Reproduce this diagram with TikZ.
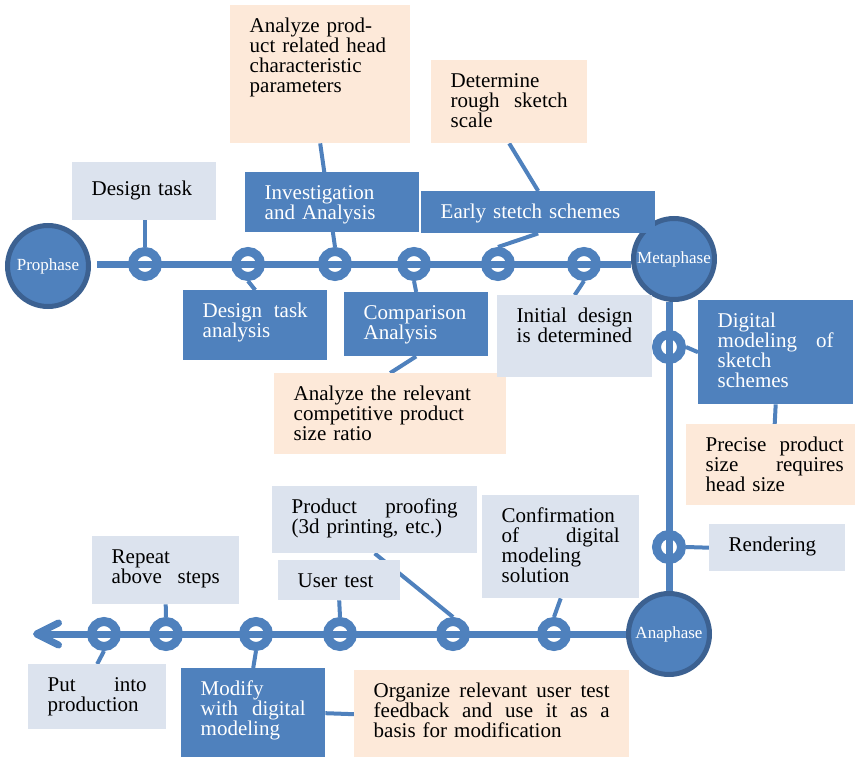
\documentclass[tikz,border=0pt]{standalone}
\usepackage{fontspec}
\setmainfont{Liberation Serif}
\usetikzlibrary{arrows.meta,backgrounds}
\definecolor{darkBox}{HTML}{4F81BD}
\definecolor{lightBox}{HTML}{DCE3EE}
\definecolor{peachBox}{HTML}{FDE9D9}
\definecolor{rimBlue}{HTML}{3C6191}
% stretch a line out to the full text width
\newcommand{\jf}{\hskip 0pt plus 1fill\relax}
\begin{document}
\begin{tikzpicture}[x=1pt,y=-1pt,
  box/.style={anchor=north west, align=left, inner xsep=19.5pt, inner ysep=13pt,
    text height=14pt, font=\fontsize{21}{20}\selectfont},
  darkbox/.style={box, fill=darkBox, text=white},
  lightbox/.style={box, fill=lightBox, text=black},
  peachbox/.style={box, fill=peachBox, text=black},
  ring/.style={circle, draw=darkBox, line width=9pt, minimum size=25pt, inner sep=0pt},
  phase/.style={circle, fill=darkBox, draw=rimBlue, line width=5pt, minimum size=81pt,
    inner sep=0pt, text=white, font=\fontsize{17}{17}\selectfont},
  axis/.style={draw=darkBox, line width=7pt},
  link/.style={draw=darkBox, line width=4pt}]
  \useasboundingbox (0,0) rectangle (855,757);

  % the three phases
  \node[phase] (pro) at (48,266) {Prophase};
  \node[phase] (met) at (674,259) {Metaphase};
  \node[phase] (ana) at (669,634) {Anaphase};

  % steps on the time line
  \foreach \n/\x in {r1/145,r2/248,r3/335,r4/414,r5/498,r6/584}
    \node[ring] (\n) at (\x,264) {};
  \node[ring] (r7) at (669,347) {};
  \node[ring] (r8) at (669,547) {};
  \foreach \n/\x in {r9/554,r10/453,r11/340,r12/256,r13/166,r14/104}
    \node[ring] (\n) at (\x,634) {};

  % boxes along the first stretch
  \node[lightbox, text width=105pt, text height=20pt, text depth=12pt] (dt) at (72,162) {Design task};
  \node[darkbox, text width=135pt, text depth=20pt] (inv) at (245,172) {Investigation\\and Analysis};
  \node[darkbox, text width=195pt, text depth=2pt] (ess) at (421,191) {Early stetch schemes};
  \node[peachbox, text width=141pt, text depth=98pt] (aph) at (230,5) {Analyze prod-\\uct related head\\characteristic\\parameters};
  \node[peachbox, text width=117pt, text depth=43pt] (drs) at (431,60) {Determine\\rough\jf sketch\\scale};
  \node[darkbox, text width=105pt, text depth=30pt] (dta) at (183,290) {Design\jf task\\analysis};
  \node[darkbox, text width=105pt, text depth=24pt] (cmp) at (344,292) {Comparison\\Analysis};
  \node[peachbox, text width=193pt, text depth=41pt] (arl) at (274,373) {Analyze the relevant\\competitive product\\size ratio};
  \node[lightbox, text width=116pt, text depth=42pt] (idd) at (497,295) {Initial\jf design\\is determined};

  % boxes along the second stretch
  \node[darkbox, text width=116pt, text depth=64pt] (dms) at (698,300) {Digital\\modeling\jf of\\sketch\\schemes};
  \node[peachbox, text width=138pt, text depth=41pt] (pps) at (686,424) {Precise\jf product\\size\jf requires\\head size};
  \node[lightbox, text width=97pt, text depth=7pt] (rnd) at (709,524) {Rendering};

  % boxes along the last stretch
  \node[lightbox, text width=108pt, text depth=28pt] (rpt) at (92,536) {Repeat\\above\jf steps};
  \node[lightbox, text width=83pt, text depth=0pt] (ust) at (278,560) {User test};
  \node[lightbox, text width=166pt, text depth=27pt] (ppf) at (272,486) {Product\jf proofing\\(3d printing, etc.)};
  \node[lightbox, text width=118pt, text depth=63pt] (cfm) at (482,495) {Confirmation\\of\jf digital\\modeling\\solution};
  \node[lightbox, text width=99pt, text depth=25pt] (pip) at (28,664) {Put\jf into\\production};
  \node[darkbox, text width=105pt, text depth=50pt] (mod) at (181,668) {Modify\\with\jf digital\\modeling};
  \node[peachbox, text width=236pt, text depth=48pt] (org) at (354,670)
    {Organize\jf relevant\jf user\jf test\\feedback\jf and\jf use\jf it\jf as\jf a\\basis for modification};

  \coordinate (start) at (97,264);
  \coordinate (tip) at (33,634);

  \begin{scope}[on background layer]
    \draw[axis] (start) -- (start -| met.west);
    \draw[axis] (met.south -| ana.north) -- (ana.north);
    \draw[axis, -{Straight Barb[length=22pt,width=22pt,round]}] (ana.west) -- (tip);

    \draw[link] (r1.north) -- (r1.north |- dt.south);
    \draw[link] (r2.south) -- (dta.north);
    \draw[link] (r3.north) -- (aph.south);
    \draw[link] (r4.south) -- (cmp.north);
    \draw[link] (cmp.south) -- (arl.north);
    \draw[link] (r5.north) -- (ess.south);
    \draw[link] (ess.north) -- (drs.south);
    \draw[link] (r6.south) -- (idd.north);
    \draw[link] (r7.east) -- (dms.west);
    \draw[link] (dms.south) -- (pps.north);
    \draw[link] (r8.east) -- (rnd.west);
    \draw[link] (r9.north) -- (cfm.south);
    \draw[link] (r10.north) -- (ppf.south);
    \draw[link] (r11.north) -- (ust.south);
    \draw[link] (r12.south) -- (mod.north);
    \draw[link] (mod.east) -- (org.west);
    \draw[link] (r13.north) -- (rpt.south);
    \draw[link] (r14.south) -- (pip.north);
  \end{scope}
\end{tikzpicture}
\end{document}
